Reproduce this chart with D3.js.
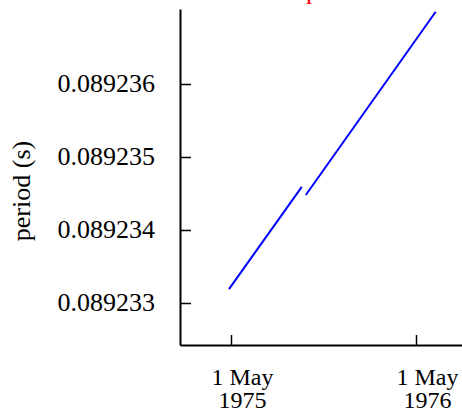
<!DOCTYPE html>
<html>
<head>
<meta charset="utf-8">
<script src="https://cdn.jsdelivr.net/npm/d3@7"></script>
<style>
  html, body { margin: 0; padding: 0; background: #fff; }
  svg { display: block; font-family: "Liberation Serif", "Times New Roman", serif; }
</style>
</head>
<body>
<div id="chart"></div>
<script>
// two pieces of the period curve, before and after the glitch
const beforeDates = ["1975-04-27", "1975-09-18"];
const beforePeriod = [0.08923319, 0.08923459];
const afterDates = ["1975-09-26", "1976-06-09"];
const afterPeriod = [0.08923448, 0.08923699];

const yTicks = [0.089233, 0.089234, 0.089235, 0.089236];
const xTicks = ["1975-05-01", "1976-05-01"];
const xTickLines = [["1 May", "1975"], ["1 May", "1976"]];

const parse = d3.timeParse("%Y-%m-%d");

const svg = d3.select("#chart")
    .append("svg")
    .attr("width", 462)
    .attr("height", 409);

// scales pinned on the ticks, then stretched out to the axis ends
const x = d3.scaleTime()
    .domain([parse(xTicks[0]), parse(xTicks[1])])
    .range([231, 416]);
x.domain([x.invert(180), x.invert(470)]).range([180, 470]);

const y = d3.scaleLinear()
    .domain([yTicks[0], yTicks[3]])
    .range([303, 84]);
y.domain([y.invert(345), y.invert(9)]).range([345, 9]);

// y axis
const yAxis = svg.append("g")
    .attr("transform", "translate(180,0)")
    .call(d3.axisLeft(y)
        .tickValues(yTicks)
        .tickSizeInner(-11)
        .tickSizeOuter(0)
        .tickPadding(25)
        .tickFormat(d3.format(".6f")));
yAxis.select(".domain").attr("stroke-width", 2);
yAxis.selectAll(".tick line").attr("stroke-width", 1.5);
yAxis.selectAll(".tick text")
    .attr("font-family", "Liberation Serif, serif")
    .attr("font-size", 26)
    .attr("fill", "#000")
    .attr("dy", "0.27em");

// x axis
const xAxis = svg.append("g")
    .attr("transform", "translate(0,345)")
    .call(d3.axisBottom(x)
        .tickValues(xTicks.map(parse))
        .tickSizeInner(-10)
        .tickSizeOuter(0)
        .tickFormat(""));
xAxis.select(".domain").attr("stroke-width", 2);
xAxis.selectAll(".tick line").attr("stroke-width", 1.5);
xAxis.selectAll(".tick text").remove();
xAxis.selectAll(".tick")
    .append("text")
    .attr("font-family", "Liberation Serif, serif")
    .attr("font-size", 24)
    .attr("fill", "#000")
    .attr("text-anchor", "middle")
    .attr("x", 11)
    .selectAll("tspan")
    .data((d, i) => xTickLines[i])
    .join("tspan")
    .attr("x", 11)
    .attr("y", (d, i) => 40 + i * 23)
    .text(d => d);

// axis title
svg.append("text")
    .attr("transform", "translate(30,191) rotate(-90)")
    .attr("text-anchor", "middle")
    .attr("font-size", 26)
    .text("period (s)");

// red title, only its tail shows at the top edge
svg.append("text")
    .attr("x", 306)
    .attr("y", -1)
    .attr("font-size", 26)
    .attr("fill", "red")
    .text("p");

const line = d3.line()
    .x(d => x(d[0]))
    .y(d => y(d[1]));

const series = [
    beforeDates.map((d, i) => [parse(d), beforePeriod[i]]),
    afterDates.map((d, i) => [parse(d), afterPeriod[i]])
];

svg.append("g")
    .selectAll("path")
    .data(series)
    .join("path")
    .attr("d", line)
    .attr("fill", "none")
    .attr("stroke", "#0000ff")
    .attr("stroke-width", 2);
</script>
</body>
</html>
